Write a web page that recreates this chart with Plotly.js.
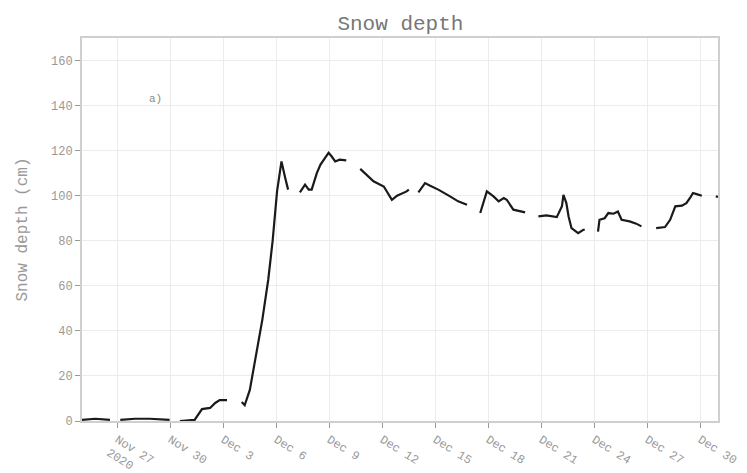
<!DOCTYPE html>
<html>
<head>
<meta charset="utf-8">
<script src="https://cdn.plot.ly/plotly-3.0.1.min.js"></script>
<style>html,body{margin:0;padding:0;background:#fff}#chart{width:747px;height:473px}</style>
</head>
<body>
<div id="chart"></div>
<script>
// Snow depth readings (cm); null marks a gap in the record
var times = [
  "2020-11-25 00:00","2020-11-25 18:00","2020-11-26 14:00", null,
  "2020-11-27 04:00","2020-11-28 00:00","2020-11-28 20:00","2020-11-29 23:00", null,
  "2020-11-30 13:00","2020-12-01 09:00","2020-12-01 19:00","2020-12-02 06:00","2020-12-02 13:00","2020-12-02 19:00","2020-12-03 05:00", null,
  "2020-12-04 01:00","2020-12-04 05:00","2020-12-04 12:00","2020-12-04 19:00","2020-12-05 05:00","2020-12-05 13:00","2020-12-05 19:00","2020-12-06 01:00","2020-12-06 07:00","2020-12-06 12:00","2020-12-06 16:00", null,
  "2020-12-07 08:00","2020-12-07 15:00","2020-12-07 20:00","2020-12-08 00:00","2020-12-08 07:00","2020-12-08 12:00","2020-12-08 18:00","2020-12-08 23:00","2020-12-09 03:00","2020-12-09 08:00","2020-12-09 14:00","2020-12-09 23:00", null,
  "2020-12-10 18:00","2020-12-11 12:00","2020-12-12 02:00","2020-12-12 13:00","2020-12-12 20:00","2020-12-13 09:00","2020-12-13 12:00", null,
  "2020-12-14 01:00","2020-12-14 10:00","2020-12-14 17:00","2020-12-15 04:00","2020-12-15 20:00","2020-12-16 07:00","2020-12-16 19:00", null,
  "2020-12-17 13:00","2020-12-17 18:00","2020-12-17 22:00","2020-12-18 07:00","2020-12-18 14:00","2020-12-18 21:00","2020-12-19 01:00","2020-12-19 10:00","2020-12-19 19:00","2020-12-20 02:00", null,
  "2020-12-20 20:00","2020-12-21 07:00","2020-12-21 21:00","2020-12-22 04:00","2020-12-22 06:00","2020-12-22 10:00","2020-12-22 13:00","2020-12-22 17:00","2020-12-23 02:00","2020-12-23 09:00","2020-12-23 11:00", null,
  "2020-12-24 05:00","2020-12-24 07:00","2020-12-24 14:00","2020-12-24 19:00","2020-12-25 02:00","2020-12-25 08:00","2020-12-25 13:00","2020-12-26 00:00","2020-12-26 09:00","2020-12-26 16:00", null,
  "2020-12-27 12:00","2020-12-28 00:00","2020-12-28 07:00","2020-12-28 14:00","2020-12-28 23:00","2020-12-29 05:00","2020-12-29 10:00","2020-12-29 14:00","2020-12-29 19:00","2020-12-30 02:00", null,
  "2020-12-30 21:00","2020-12-31 00:00"
];
var depth = [
  0.5, 1, 0.5, null,
  0.5, 1, 1, 0.5, null,
  0, 0.5, 5.3, 5.8, 8, 9.3, 9.3, null,
  8.4, 7, 13.8, 27, 45, 62.7, 80, 102, 115.2, 108, 102.7, null,
  101.5, 104.9, 102.7, 102.7, 110, 113.8, 116.7, 119, 117.5, 115.2, 116, 115.7, null,
  111.9, 106.4, 104.1, 98.2, 100, 101.9, 102.7, null,
  101.5, 105.6, 104.4, 102.7, 99.7, 97.5, 96, null,
  92.3, 98.2, 101.9, 99.7, 97.5, 99, 98.2, 93.8, 93, 92.6, null,
  90.8, 91.3, 90.5, 95.3, 100.4, 96.7, 90.8, 85.6, 83.4, 84.9, 84.9, null,
  84.1, 89.3, 90, 92.3, 92, 93, 89.3, 88.6, 87.6, 86.4, null,
  85.6, 86.1, 89.3, 95.3, 95.6, 96.7, 99, 101.2, 100.7, 100, null,
  99.7, 99.5
];
var xRange = ["2020-11-25 00:00", "2020-12-31 00:00"];
var yRange = [0, 170];
var yTicks = [0, 20, 40, 60, 80, 100, 120, 140, 160];
var chartTitle = "Snow depth";
var yTitle = "Snow depth (cm)";
var panelLabel = "a)";

var mono = "Liberation Mono, DejaVu Sans Mono, monospace";
var trace = {
  x: times, y: depth, type: "scatter", mode: "lines",
  connectgaps: false,
  line: {color: "#1a1a1a", width: 2.2},
  hoverinfo: "skip"
};
var layout = {
  width: 747, height: 473,
  margin: {l: 82, r: 29, t: 38, b: 52},
  paper_bgcolor: "#fff", plot_bgcolor: "#fff",
  showlegend: false,
  title: {text: chartTitle, x: 0.536, xanchor: "center", y: 0.953, yanchor: "middle",
          font: {family: mono, size: 21, color: "#777"}},
  xaxis: {
    type: "date", range: xRange,
    tick0: "2020-11-27", dtick: 3 * 86400000,
    tickangle: 32,
    ticks: "outside", ticklen: 5, tickcolor: "#999", tickwidth: 1,
    tickfont: {family: mono, size: 12, color: "#999"},
    showgrid: true, gridcolor: "#ececec", gridwidth: 1,
    showline: true, linecolor: "#cfcfcf", linewidth: 2, mirror: true,
    zeroline: false
  },
  yaxis: {
    range: yRange, tickvals: yTicks,
    ticks: "outside", ticklen: 5, tickcolor: "#999", tickwidth: 1,
    tickfont: {family: mono, size: 12, color: "#999"},
    showgrid: true, gridcolor: "#ececec", gridwidth: 1,
    showline: true, linecolor: "#cfcfcf", linewidth: 2, mirror: true,
    zeroline: false,
    title: {text: yTitle, font: {family: mono, size: 16, color: "#999"}, standoff: 19}
  },
  annotations: [{
    text: panelLabel, xref: "paper", yref: "paper", x: 0.102, y: 0.862,
    showarrow: false, font: {family: mono, size: 11, color: "#888"}
  }]
};
Plotly.newPlot("chart", [trace], layout, {displayModeBar: false, staticPlot: true});
</script>
</body>
</html>
